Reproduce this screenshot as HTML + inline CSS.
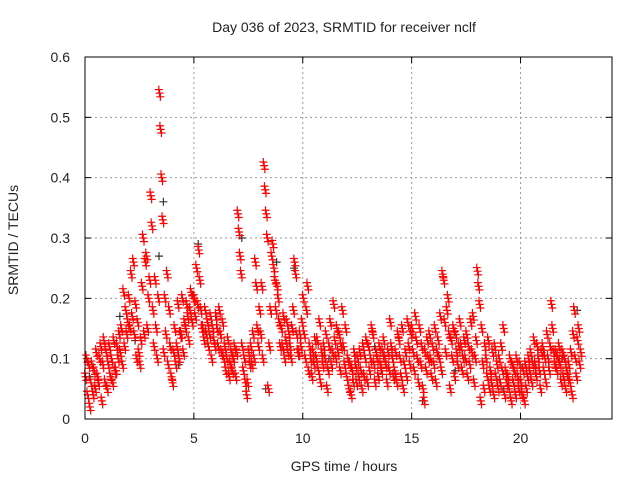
<!DOCTYPE html>
<html><head><meta charset="utf-8">
<style>
html,body{margin:0;padding:0;background:#fff;}
svg text{font-family:"Liberation Sans",sans-serif;fill:#222;}
</style></head>
<body>
<svg id="chart" width="640" height="480" viewBox="0 0 640 480" xmlns="http://www.w3.org/2000/svg">
<rect x="0" y="0" width="640" height="480" fill="#fff"/>
<text x="344" y="32" font-size="14" text-anchor="middle">Day 036 of 2023, SRMTID for receiver nclf</text>
<text transform="translate(18,240) rotate(-90)" font-size="14" text-anchor="middle">SRMTID / TECUs</text>
<text x="344" y="471" font-size="14" text-anchor="middle">GPS time / hours</text>
<g id="grid"></g>
<g id="ticks"></g>
<g id="black-series"></g>
<g id="red-series"></g>
<rect x="85" y="57" width="527" height="362" fill="none" stroke="#000" stroke-width="1"/>
</svg>
<script>
const xTicks=[0,5,10,15,20];
const yTicks=[0,0.1,0.2,0.3,0.4,0.5,0.6];
const yTickLabels=["0","0.1","0.2","0.3","0.4","0.5","0.6"];
const binHours=[0.1,0.3,0.5,0.7,0.9,1.1,1.3,1.5,1.7,1.9,2.1,2.3,2.5,2.7,2.9,3.1,3.3,3.5,3.7,3.9,4.1,4.3,4.5,4.7,4.9,5.1,5.3,5.5,5.7,5.9,6.1,6.3,6.5,6.7,6.9,7.1,7.3,7.5,7.7,7.9,8.1,8.3,8.5,8.7,8.9,9.1,9.3,9.5,9.7,9.9,10.1,10.3,10.5,10.7,10.9,11.1,11.3,11.5,11.7,11.9,12.1,12.3,12.5,12.7,12.9,13.1,13.3,13.5,13.7,13.9,14.1,14.3,14.5,14.7,14.9,15.1,15.3,15.5,15.7,15.9,16.1,16.3,16.5,16.7,16.9,17.1,17.3,17.5,17.7,17.9,18.1,18.3,18.5,18.7,18.9,19.1,19.3,19.5,19.7,19.9,20.1,20.3,20.5,20.7,20.9,21.1,21.3,21.5,21.7,21.9,22.1,22.3,22.5,22.7];
const redValues=[
[0.07,0.1,0.04,0.09],[0.02,0.06,0.09,0.04],[0.08,0.05,0.11,0.07],[0.06,0.1,0.12,0.03],[0.09,0.13,0.06,0.11],
[0.05,0.09,0.12,0.07],[0.1,0.06,0.13,0.08],[0.08,0.12,0.1,0.14],[0.11,0.15,0.09,0.21],[0.12,0.18,0.14,0.16],
[0.2,0.15,0.24,0.17],[0.26,0.14,0.19,0.1],[0.16,0.11,0.09,0.13],[0.22,0.3,0.14,0.26],[0.27,0.15,0.2,0.23],
[0.37,0.32,0.18,0.12],[0.23,0.15,0.1,0.2],[0.54,0.48,0.40,0.33],[0.11,0.2,0.14,0.24],[0.09,0.18,0.12,0.07],
[0.06,0.11,0.15,0.09],[0.12,0.19,0.1,0.14],[0.14,0.2,0.11,0.16],[0.15,0.19,0.17,0.13],[0.18,0.21,0.16,0.2],
[0.2,0.17,0.25,0.19],[0.28,0.23,0.18,0.15],[0.15,0.13,0.18,0.14],[0.16,0.12,0.14,0.17],[0.1,0.15,0.13,0.12],
[0.17,0.15,0.12,0.18],[0.14,0.11,0.16,0.1],[0.12,0.08,0.1,0.13],[0.07,0.09,0.11,0.08],[0.1,0.12,0.07,0.11],
[0.34,0.31,0.27,0.24],[0.12,0.08,0.1,0.06],[0.04,0.06,0.11,0.09],[0.12,0.09,0.14,0.1],[0.26,0.22,0.15,0.12],
[0.18,0.14,0.22,0.1],[0.42,0.38,0.34,0.3],[0.05,0.12,0.18,0.27],[0.29,0.25,0.23,0.18],[0.22,0.2,0.16,0.12],
[0.15,0.12,0.17,0.1],[0.13,0.16,0.11,0.14],[0.12,0.1,0.15,0.18],[0.26,0.24,0.14,0.11],[0.11,0.14,0.12,0.16],
[0.2,0.14,0.1,0.18],[0.22,0.08,0.12,0.1],[0.07,0.11,0.09,0.13],[0.1,0.13,0.08,0.16],[0.06,0.11,0.09,0.12],
[0.1,0.14,0.05,0.08],[0.12,0.16,0.09,0.11],[0.19,0.13,0.1,0.15],[0.11,0.14,0.08,0.12],[0.18,0.12,0.09,0.15],
[0.07,0.1,0.05,0.09],[0.04,0.08,0.06,0.11],[0.09,0.06,0.1,0.07],[0.11,0.08,0.05,0.12],[0.07,0.1,0.13,0.06],
[0.12,0.08,0.1,0.15],[0.14,0.09,0.06,0.11],[0.1,0.07,0.12,0.09],[0.08,0.11,0.13,0.1],[0.09,0.06,0.11,0.08],
[0.16,0.12,0.1,0.07],[0.08,0.11,0.06,0.14],[0.13,0.1,0.07,0.15],[0.05,0.09,0.11,0.07],[0.16,0.12,0.09,0.14],
[0.15,0.11,0.08,0.17],[0.13,0.1,0.06,0.15],[0.09,0.12,0.05,0.03],[0.11,0.08,0.13,0.1],[0.14,0.1,0.07,0.12],
[0.09,0.15,0.06,0.11],[0.13,0.1,0.17,0.08],[0.24,0.23,0.16,0.11],[0.18,0.2,0.14,0.05],[0.13,0.1,0.15,0.07],
[0.14,0.11,0.09,0.12],[0.16,0.12,0.08,0.1],[0.13,0.1,0.14,0.07],[0.12,0.09,0.16,0.11],[0.17,0.06,0.1,0.13],
[0.245,0.22,0.19,0.03],[0.15,0.09,0.05,0.12],[0.1,0.07,0.13,0.05],[0.08,0.06,0.11,0.04],[0.12,0.07,0.09,0.05],
[0.1,0.06,0.12,0.08],[0.15,0.04,0.08,0.06],[0.07,0.05,0.1,0.03],[0.09,0.06,0.08,0.04],[0.1,0.07,0.05,0.09],
[0.06,0.04,0.08,0.03],[0.09,0.05,0.07,0.1],[0.08,0.11,0.06,0.09],[0.13,0.09,0.07,0.12],[0.1,0.08,0.05,0.11],
[0.12,0.08,0.1,0.06],[0.14,0.1,0.08,0.12],[0.19,0.15,0.11,0.09],[0.11,0.08,0.1,0.12],[0.09,0.06,0.11,0.07],
[0.1,0.05,0.08,0.07],[0.09,0.06,0.11,0.04],[0.14,0.18,0.1,0.07],[0.13,0.15,0.09,0.11]];
const blackHours=[0.2,1.6,2.3,3.4,3.6,4.3,5.2,6.0,7.2,8.3,8.8,9.6,11.2,13.3,15.5,17.0,19.2,21.9,22.6];
const blackValues=[0.07,0.17,0.13,0.27,0.36,0.09,0.29,0.17,0.3,0.05,0.26,0.25,0.1,0.12,0.03,0.08,0.05,0.1,0.18];

const NS="http://www.w3.org/2000/svg";
const X0=85,X1=612,Y0=419,Y1=57,XMAX=24.2,YMAX=0.6;
function xs(v){return X0+v/XMAX*(X1-X0);}
function ys(v){return Y0-v/YMAX*(Y0-Y1);}
function mk(tag,attrs,parent){const e=document.createElementNS(NS,tag);for(const k in attrs)e.setAttribute(k,attrs[k]);parent.appendChild(e);return e;}

const grid=document.getElementById('grid');
const ticks=document.getElementById('ticks');
xTicks.forEach(t=>{
  const x=xs(t);
  if(t>0){const g=mk('line',{x1:x,y1:Y0,x2:x,y2:Y1,stroke:'#999','stroke-dasharray':'2,3','stroke-width':1},grid);
  
  }
  mk('line',{x1:x,y1:Y0,x2:x,y2:Y0-6,stroke:'#000'},ticks);
  mk('line',{x1:x,y1:Y1,x2:x,y2:Y1+6,stroke:'#000'},ticks);
  const l=mk('text',{x:x,y:443,'font-size':14,'text-anchor':'middle'},ticks);
  l.textContent=String(t);
  
  
});
yTicks.forEach((t,i)=>{
  const y=ys(t);
  if(t>0&&t<YMAX){const g=mk('line',{x1:X0,y1:y,x2:X1,y2:y,stroke:'#999','stroke-dasharray':'2,3','stroke-width':1},grid);
  
  }
  mk('line',{x1:X0,y1:y,x2:X0+6,y2:y,stroke:'#000'},ticks);
  mk('line',{x1:X1,y1:y,x2:X1-6,y2:y,stroke:'#000'},ticks);
  const l=mk('text',{x:70,y:y+5,'font-size':14,'text-anchor':'end'},ticks);
  l.textContent=yTickLabels[i];
  
  
});
function plus(parent,x,y,color){
  return mk('path',{d:`M${x-4},${y}H${x+4}M${x},${y-4}V${y+4}`,stroke:color,'stroke-width':1.2,fill:'none'},parent);
}
const bg=document.getElementById('black-series');
blackHours.forEach((h,i)=>{
  const p=plus(bg,xs(h),ys(blackValues[i]),'#333');
  
  
});
const rg=document.getElementById('red-series');
const offs=[-0.075,-0.025,0.025,0.075];
const jx=[-0.035,0,0.035];
const jy=[0.006,0,-0.006];
binHours.forEach((h,i)=>{
  redValues[i].forEach((v,j)=>{
    jx.forEach((dx,k)=>{
      const p=plus(rg,xs(h+offs[j]+dx),ys(v+jy[k]),'#f00');
      
      
    });
  });
});
</script>
</body></html>
